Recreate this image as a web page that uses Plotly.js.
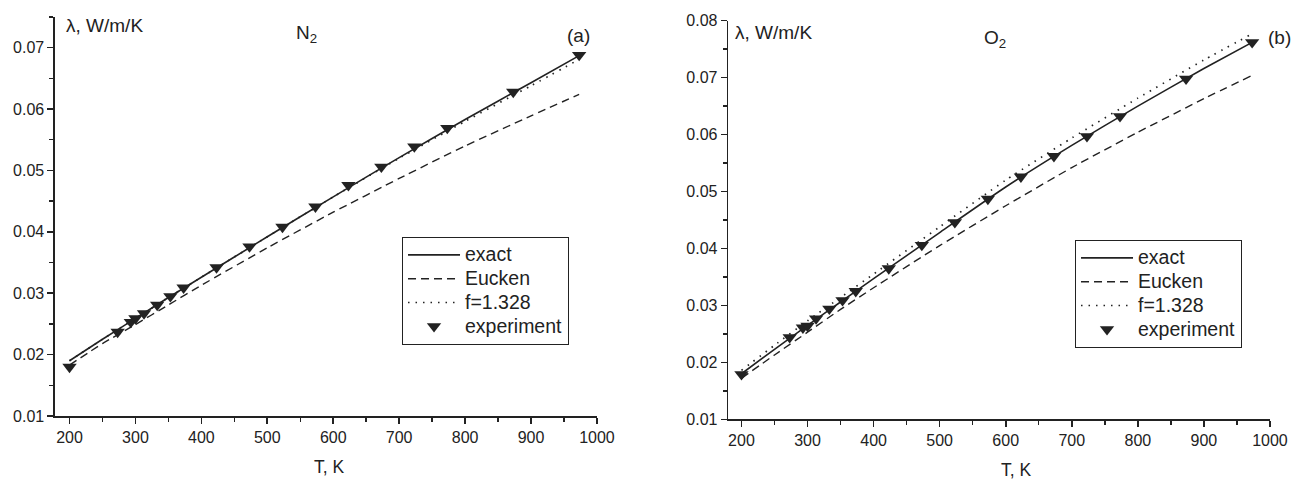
<!DOCTYPE html>
<html>
<head>
<meta charset="utf-8">
<script src="https://cdn.plot.ly/plotly-3.0.1.min.js"></script>
<style>html,body{margin:0;padding:0;background:#fff;}#chart{width:1291px;height:479px;}</style>
</head>
<body>
<div id="chart"></div>
<script>
// ---- N2 (panel a) ----
const n2ExpT = [200, 273, 293, 300, 313, 333, 353, 373, 423, 473, 523, 573, 623, 673, 723, 773, 873, 973];
const n2ExpL = [0.0180, 0.0237, 0.0253, 0.0259, 0.0267, 0.0281, 0.0295, 0.0309, 0.0342, 0.0376, 0.0408, 0.0441, 0.0476, 0.0506, 0.0539, 0.0569, 0.0628, 0.0688];
const curveT = [200, 250, 300, 350, 400, 500, 600, 700, 800, 900, 973];
const n2Exact  = [0.0190, 0.0225, 0.0259, 0.0293, 0.0326, 0.0392, 0.0457, 0.0521, 0.0583, 0.0643, 0.0687];
const n2Eucken = [0.0183, 0.0218, 0.0249, 0.0281, 0.0313, 0.0374, 0.0432, 0.0487, 0.0540, 0.0589, 0.0624];
const n2F      = [0.0190, 0.0225, 0.0259, 0.0293, 0.0326, 0.0392, 0.0457, 0.0520, 0.0580, 0.0638, 0.0681];
// ---- O2 (panel b) ----
const o2ExpT = [200, 273, 293, 300, 313, 333, 353, 373, 423, 473, 523, 573, 623, 673, 723, 773, 873, 973];
const o2ExpL = [0.0179, 0.0244, 0.0261, 0.0264, 0.0277, 0.0294, 0.0309, 0.0325, 0.0365, 0.0406, 0.0446, 0.0487, 0.0526, 0.0562, 0.0597, 0.0632, 0.0698, 0.0762];
const o2Exact  = [0.0180, 0.0223, 0.0265, 0.0306, 0.0347, 0.0428, 0.0508, 0.0581, 0.0650, 0.0716, 0.0762];
const o2Eucken = [0.0172, 0.0213, 0.0253, 0.0293, 0.0331, 0.0405, 0.0475, 0.0542, 0.0604, 0.0663, 0.0704];
const o2F      = [0.0186, 0.0230, 0.0273, 0.0314, 0.0355, 0.0438, 0.0520, 0.0594, 0.0664, 0.0731, 0.0777];

const xTicks = [200, 300, 400, 500, 600, 700, 800, 900, 1000];
const seriesNames = ['exact', 'Eucken', 'f=1.328', 'experiment'];

const ink = '#222';
const solid = {color: ink, width: 1.6, shape: 'spline', smoothing: 0.5};
const dashed = {color: ink, width: 1.4, dash: '8px,5px', shape: 'spline', smoothing: 0.5};
const dotted = {color: ink, width: 1.7, dash: '1.5px,6px', shape: 'spline', smoothing: 0.5};
const mk = {symbol: 'triangle-down', size: 12.5, color: ink};
const big = s => '<span style="font-size:19.5px">' + s + '</span>';

function traces(xa, ya, lg, ex, eu, ff, eT, eL) {
  return [
    {x: curveT, y: ex, xaxis: xa, yaxis: ya, legend: lg, mode: 'lines', line: solid, name: big(seriesNames[0])},
    {x: curveT, y: eu, xaxis: xa, yaxis: ya, legend: lg, mode: 'lines', line: dashed, name: big(seriesNames[1])},
    {x: curveT, y: ff, xaxis: xa, yaxis: ya, legend: lg, mode: 'lines', line: dotted, name: big(seriesNames[2])},
    {x: eT, y: eL, xaxis: xa, yaxis: ya, legend: lg, mode: 'markers', marker: mk, name: big(seriesNames[3])}
  ];
}

const data = [].concat(
  traces('x', 'y', 'legend', n2Exact, n2Eucken, n2F, n2ExpT, n2ExpL),
  traces('x2', 'y2', 'legend2', o2Exact, o2Eucken, o2F, o2ExpT, o2ExpL)
);

const font = {family: 'Liberation Sans, Arial, sans-serif', color: ink};
function xax(dom, rng) {
  return {domain: dom, range: rng, showgrid: false, zeroline: false, showline: true, linecolor: ink, linewidth: 1.6,
    ticks: 'outside', ticklen: 6, tickwidth: 1.6, tickcolor: ink, tickvals: xTicks, ticktext: xTicks.map(String),
    tickfont: {size: 16, color: ink}, minor: {dtick: 50, tick0: 0, ticks: 'outside', ticklen: 4, tickwidth: 1.4, tickcolor: ink},
    fixedrange: true};
}
function yax(dom, rng, anchor) {
  return {domain: dom, range: rng, anchor: anchor, showgrid: false, zeroline: false, showline: true, linecolor: ink, linewidth: 1.6,
    ticks: 'outside', ticklen: 6, tickwidth: 1.6, tickcolor: ink, dtick: 0.01, tick0: 0, tickformat: '.2f',
    tickfont: {size: 16, color: ink}, minor: {dtick: 0.005, ticks: 'outside', ticklen: 4, tickwidth: 1.4, tickcolor: ink},
    fixedrange: true};
}
const legendStyle = {bgcolor: '#fff', bordercolor: ink, borderwidth: 1, font: {size: 16, color: ink}, xanchor: 'left', yanchor: 'top',
  itemwidth: 52, tracegroupgap: 0, itemclick: false};

const layout = {
  width: 1291, height: 479, margin: {l: 0, r: 0, t: 0, b: 0}, paper_bgcolor: '#fff', plot_bgcolor: '#fff',
  font: font, showlegend: true,
  xaxis: Object.assign(xax([0.0426, 0.4624], [178, 1000]), {anchor: 'y'}),
  yaxis: yax([0.1315, 0.9645], [0.01, 0.075], 'x'),
  xaxis2: Object.assign(xax([0.5641, 0.9837], [180, 1000]), {anchor: 'y2'}),
  yaxis2: yax([0.1246, 0.9568], [0.01, 0.08], 'x2'),
  legend: Object.assign({x: 0.3114, y: 0.5052}, legendStyle),
  legend2: Object.assign({x: 0.8327, y: 0.499}, legendStyle),
  annotations: [
    {xref: 'paper', yref: 'paper', x: 64/1291, y: 1 - 25/479, text: 'λ, W/m/K', showarrow: false, xanchor: 'left', yanchor: 'middle', font: {size: 19, color: ink}},
    {xref: 'paper', yref: 'paper', x: 294/1291, y: 1 - 34/479, text: 'N<sub>2</sub>', showarrow: false, xanchor: 'left', yanchor: 'middle', font: {size: 19, color: ink}},
    {xref: 'paper', yref: 'paper', x: 565/1291, y: 1 - 36/479, text: '(a)', showarrow: false, xanchor: 'left', yanchor: 'middle', font: {size: 19, color: ink}},
    {xref: 'paper', yref: 'paper', x: 312/1291, y: 1 - 467/479, text: 'T, K', showarrow: false, xanchor: 'left', yanchor: 'middle', font: {size: 17.5, color: ink}},
    {xref: 'paper', yref: 'paper', x: 733/1291, y: 1 - 32/479, text: 'λ, W/m/K', showarrow: false, xanchor: 'left', yanchor: 'middle', font: {size: 19, color: ink}},
    {xref: 'paper', yref: 'paper', x: 982/1291, y: 1 - 39/479, text: 'O<sub>2</sub>', showarrow: false, xanchor: 'left', yanchor: 'middle', font: {size: 19, color: ink}},
    {xref: 'paper', yref: 'paper', x: 1266/1291, y: 1 - 37/479, text: '(b)', showarrow: false, xanchor: 'left', yanchor: 'middle', font: {size: 19, color: ink}},
    {xref: 'paper', yref: 'paper', x: 999/1291, y: 1 - 470/479, text: 'T, K', showarrow: false, xanchor: 'left', yanchor: 'middle', font: {size: 17.5, color: ink}}
  ]
};

Plotly.newPlot('chart', data, layout, {displayModeBar: false, staticPlot: true});
</script>
</body>
</html>
